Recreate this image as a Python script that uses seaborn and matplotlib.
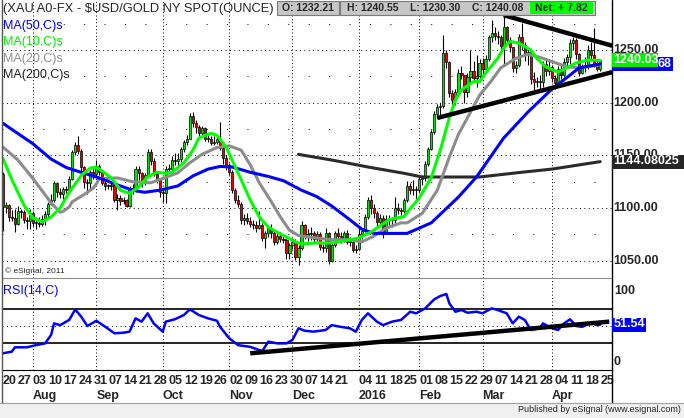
import numpy as np
import pandas as pd
import matplotlib
matplotlib.use("Agg")
import matplotlib.pyplot as plt
from matplotlib.patches import Rectangle
from matplotlib.lines import Line2D
import seaborn as sns

# daily bars, 20 Jul 2015 (bar 0) .. 25 Apr 2016 (bar 198)
first_open = 1132
close = [
    1101, 1103, 1092, 1091, 1085, 1097, 1096, 1089, 1088, 1095,
    1086, 1086, 1085, 1090, 1094, 1104, 1108, 1124, 1115, 1113,
    1118, 1117, 1128, 1153, 1160, 1154, 1139, 1125, 1124, 1134, 1132,
    1140, 1134, 1124, 1121, 1121, 1122, 1108, 1110, 1107, 1108, 1102,
    1119, 1117, 1137, 1133, 1124, 1131, 1153, 1145, 1132, 1127, 1115,
    1114, 1137, 1137, 1146, 1145, 1147, 1156, 1163, 1166, 1187, 1181,
    1177, 1171, 1176, 1166, 1166, 1162, 1163, 1166, 1157, 1148, 1141,
    1134, 1117, 1108, 1104, 1089, 1091, 1088, 1085, 1084, 1081, 1084,
    1072, 1076, 1081, 1076, 1068, 1074, 1071, 1070, 1057, 1065,
    1068, 1054, 1062, 1084, 1074, 1075, 1076, 1071, 1075, 1063, 1062,
    1076, 1050, 1065, 1076, 1074, 1069, 1076, 1068, 1068, 1060, 1061,
    1075, 1078, 1092, 1108, 1100, 1095, 1087, 1091, 1077, 1090,
    1089, 1089, 1100, 1098, 1097, 1108, 1121, 1117, 1118, 1117,
    1128, 1129, 1142, 1156, 1172, 1189, 1196, 1197, 1247, 1239, 1209,
    1203, 1210, 1228, 1226, 1210, 1224, 1230, 1223, 1225, 1238,
    1232, 1241, 1262, 1266, 1263, 1262, 1254, 1272, 1259, 1253, 1233, 1236,
    1262, 1255, 1246, 1248, 1222, 1220, 1221, 1220, 1237, 1230, 1234,
    1223, 1219, 1232, 1226, 1239, 1243, 1257, 1259, 1246, 1228, 1234,
    1236, 1250, 1245, 1237, 1232.21, 1240.08,
]
high = [
    1134, 1106, 1104, 1098, 1099, 1102, 1099, 1098, 1092, 1099,
    1097, 1092, 1092, 1093, 1097, 1106, 1113, 1126, 1125, 1119,
    1120, 1121, 1130, 1155, 1163, 1168, 1156, 1140, 1128, 1136, 1140,
    1146, 1142, 1135, 1126, 1123, 1125, 1126, 1113, 1112, 1111, 1109,
    1121, 1123, 1140, 1140, 1134, 1133, 1156, 1156, 1148, 1135, 1128,
    1119, 1140, 1142, 1149, 1152, 1152, 1158, 1165, 1169, 1190, 1191,
    1184, 1179, 1178, 1177, 1170, 1168, 1168, 1168, 1182, 1160, 1150,
    1143, 1136, 1119, 1112, 1106, 1094, 1095, 1092, 1089, 1088, 1097,
    1086, 1078, 1083, 1085, 1078, 1078, 1077, 1074, 1072, 1067,
    1072, 1071, 1065, 1088, 1085, 1080, 1082, 1078, 1078, 1077, 1066,
    1081, 1077, 1069, 1078, 1081, 1077, 1078, 1079, 1073, 1070, 1065,
    1082, 1081, 1094, 1111, 1112, 1104, 1097, 1094, 1093, 1093,
    1093, 1092, 1111, 1105, 1100, 1110, 1126, 1124, 1127, 1121,
    1130, 1131, 1145, 1158, 1174, 1192, 1199, 1200, 1264, 1250, 1240,
    1212, 1213, 1232, 1235, 1226, 1228, 1250, 1240, 1245, 1241,
    1242, 1245, 1264, 1278, 1272, 1268, 1264, 1283, 1273, 1262, 1253, 1240,
    1265, 1276, 1258, 1252, 1249, 1229, 1224, 1226, 1240, 1242, 1240,
    1236, 1226, 1235, 1236, 1242, 1246, 1260, 1262, 1261, 1247, 1237,
    1243, 1255, 1258, 1271, 1241, 1240.55,
]
low = [
    1078, 1095, 1088, 1088, 1077, 1084, 1091, 1086, 1080, 1080,
    1083, 1080, 1082, 1083, 1084, 1092, 1103, 1106, 1111, 1110,
    1109, 1114, 1114, 1127, 1150, 1151, 1135, 1119, 1113, 1118, 1128,
    1130, 1131, 1122, 1117, 1118, 1117, 1106, 1098, 1103, 1104, 1101,
    1101, 1113, 1115, 1127, 1120, 1122, 1130, 1141, 1130, 1124, 1111,
    1106, 1105, 1133, 1135, 1141, 1138, 1144, 1153, 1160, 1166, 1177,
    1171, 1168, 1168, 1164, 1163, 1160, 1160, 1161, 1155, 1142, 1136,
    1131, 1114, 1105, 1101, 1085, 1084, 1085, 1082, 1080, 1077, 1080,
    1069, 1062, 1073, 1072, 1065, 1066, 1068, 1067, 1052, 1052,
    1061, 1051, 1046, 1060, 1071, 1069, 1070, 1068, 1069, 1060, 1058,
    1058, 1047, 1049, 1063, 1070, 1067, 1068, 1066, 1064, 1058, 1057,
    1061, 1071, 1077, 1090, 1094, 1091, 1083, 1083, 1072, 1075,
    1084, 1082, 1086, 1094, 1093, 1095, 1106, 1113, 1112, 1108,
    1115, 1122, 1126, 1140, 1155, 1170, 1185, 1188, 1195, 1233, 1205,
    1192, 1198, 1206, 1222, 1200, 1205, 1219, 1220, 1215, 1220,
    1225, 1229, 1240, 1258, 1259, 1256, 1250, 1237, 1255, 1248, 1229, 1228,
    1234, 1250, 1240, 1236, 1218, 1208, 1215, 1211, 1215, 1225, 1226,
    1220, 1213, 1216, 1222, 1224, 1234, 1237, 1250, 1241, 1225, 1227,
    1229, 1232, 1240, 1234, 1230, 1230.30,
]

# studies: (bar index, value)
ma10_x = [0, 3, 7, 10, 13, 16, 19, 22, 26, 29, 31, 32, 36, 39, 42, 45, 48, 51, 54, 56,
          60, 63, 65, 69, 71, 74, 76, 79, 82, 85, 88, 91, 94, 97, 99, 104, 109, 115,
          118, 122, 125, 128, 133, 134, 138, 142, 145, 148, 150, 152, 156, 158, 160,
          164, 166, 168, 171, 175, 177, 180, 184, 187, 190, 194, 198]
ma10_y = [1147.5, 1127, 1103, 1090.6, 1087, 1091.6, 1100, 1115, 1131, 1138, 1139, 1137,
          1128.6, 1117, 1114, 1120, 1129.5, 1134, 1133, 1134, 1143, 1155, 1166.5, 1171,
          1169, 1158, 1145.6, 1127, 1107.7, 1091.6, 1082, 1077, 1072.6, 1068, 1066, 1067,
          1067, 1070, 1071.6, 1077.3, 1083, 1089, 1092, 1096, 1109.6, 1129, 1155, 1186,
          1202.6, 1212, 1220, 1220, 1228, 1242, 1252, 1258, 1256.6, 1250, 1242, 1234,
          1229, 1233, 1237.7, 1240.5, 1240.03]
ma20_x = [0, 5, 10, 16, 19, 20, 22, 23, 27, 30, 31, 32, 38, 43, 49, 52, 58, 62, 66, 71,
          75, 79, 82, 85, 89, 92, 95, 98, 101, 104, 109, 115, 119, 123, 127, 132, 134,
          139, 144, 148, 151, 155, 158, 162, 165, 170, 174, 178, 182, 187, 191, 198]
ma20_y = [1158, 1145.6, 1128, 1105, 1096, 1097, 1101, 1106, 1113, 1119, 1123, 1128,
          1128.6, 1125, 1124, 1127, 1133.5, 1143, 1151, 1157.5, 1159, 1155, 1141, 1124,
          1106, 1091.6, 1079, 1074, 1072.6, 1071.6, 1070, 1070, 1068, 1073.5, 1081, 1086,
          1086, 1095, 1117, 1148.5, 1170, 1191, 1207, 1221, 1233, 1242, 1246, 1243,
          1239, 1234, 1233, 1236]
ma50_x = [0, 10, 16, 21, 27, 32, 38, 43, 47, 52, 58, 63, 68, 72, 76, 82, 88, 93, 99,
          104, 109, 115, 119, 123, 134, 142, 151, 157, 166, 174, 182, 187, 191, 198]
ma50_y = [1180.5, 1161, 1146.5, 1138.5, 1133, 1128.6, 1122, 1117, 1115, 1117, 1121,
          1130.5, 1137, 1139.5, 1139, 1134, 1130, 1126, 1117, 1111, 1102, 1089, 1080,
          1076, 1076, 1086, 1110.5, 1129.5, 1166.5, 1191, 1213, 1224, 1233, 1236.68]
ma200_x = [98, 100, 109, 112, 121, 123, 133, 139, 147, 158, 172, 182, 198]
ma200_y = [1151, 1150, 1145.6, 1144, 1139, 1138, 1133, 1129.5, 1129.5, 1129.5, 1134,
           1137, 1144.08]
rsi_x = [0, 3, 4, 8, 11, 14, 16, 17, 19, 22, 24, 26, 28, 31, 34, 37, 40, 42, 44, 46,
         48, 50, 53, 54, 57, 60, 62, 65, 68, 71, 72, 75, 78, 82, 85, 86, 88, 91, 94,
         96, 98, 100, 103, 107, 109, 112, 115, 117, 119, 121, 124, 126, 129, 132, 135,
         137, 140, 143, 145, 147, 148, 150, 152, 154, 157, 159, 162, 164, 167, 169,
         171, 173, 175, 178, 179, 182, 184, 186, 188, 190, 192, 195, 197, 198]
rsi_y = [18.6, 20.5, 25.5, 25.5, 28, 30, 39.7, 53, 51, 57, 69, 60.7, 50, 56, 49, 41.6,
         42.3, 43.5, 58.8, 55, 64.6, 53, 43.5, 55, 57.7, 62.6, 69.2, 62.6, 58.8, 56, 49,
         36, 28, 26, 22.4, 21.3, 32, 30, 30, 34, 47.4, 44.6, 43.5, 45.4, 51, 49, 47.4,
         43.5, 57, 64.6, 55, 51, 55, 57, 66.4, 64.6, 70.3, 80.7, 84.5, 86.8, 76, 66.4,
         68.4, 65.3, 66.4, 64.6, 70.3, 68.4, 64.6, 53, 60.7, 57, 45.4, 47.4, 53, 47.4,
         45.4, 53, 57.7, 50, 49, 53.8, 51, 51.54]

# hand-drawn trend lines
tl_top_x, tl_top_y = [166, 202], [1283, 1254]
tl_bot_x, tl_bot_y = [144, 202], [1185.5, 1229]
tl_rsi_x, tl_rsi_y = [82, 201], [18.6, 55]

week_x = [0, 5, 10, 15, 20, 25, 30, 35, 40, 45, 50, 55, 60, 65, 70, 75, 80, 85, 90, 95,
          100, 105, 110, 118, 123, 128, 133, 138, 143, 148, 153, 158, 163, 168, 173,
          178, 183, 188, 193, 198]
week_lbl = ["20", "27", "03", "10", "17", "24", "31", "07", "14", "21", "28", "05",
            "12", "19", "26", "02", "09", "16", "23", "30", "07", "14", "21", "04",
            "11", "18", "25", "01", "08", "15", "22", "29", "07", "14", "21", "28",
            "04", "11", "18", "25"]
month_x = [10, 31, 53, 75, 96, 118, 138, 159, 182]
month_lbl = ["Aug", "Sep", "Oct", "Nov", "Dec", "2016", "Feb", "Mar", "Apr"]

price_lbls = [1250, 1200, 1150, 1100, 1050]

sns.set_style("white")
plt.rcParams["font.family"] = ["Liberation Sans", "DejaVu Sans"]

W, H = 684, 418
fig = plt.figure(figsize=(W / 100, H / 100), dpi=100)


def fx(px):
    return px / W


def fy(py):
    return 1 - py / H


ax = fig.add_axes([fx(2), fy(278), 610 / W, 278 / H])
rax = fig.add_axes([fx(2), fy(370), 610 / W, 90 / H])

# grid
for a in (ax, rax):
    for m in month_x:
        a.axvline(m, color="black", lw=0.7, ls=(0, (1, 2.5)), zorder=1)
for p in [1050, 1100, 1150, 1200, 1250]:
    ax.axhline(p, color="black", lw=0.7, ls=(0, (1, 3.5)), zorder=1)
for p in [1075, 1125, 1175, 1225, 1275]:
    ax.axhline(p, color="black", lw=0.7, ls=(0, (1, 20)), zorder=1)

# candles
bars = pd.DataFrame({"close": close, "high": high, "low": low})
bars["open"] = [first_open] + close[:-1]
bars["i"] = np.arange(len(bars))
up = bars["close"] >= bars["open"]
body_lo = np.minimum(bars["open"], bars["close"])
body_h = np.maximum((bars["close"] - bars["open"]).abs(), 0.6)
ax.vlines(bars["i"], bars["low"], bars["high"], color="black", lw=0.8, zorder=2)
ax.bar(bars["i"], body_h, bottom=body_lo, width=0.72,
       color=np.where(up, "#00e600", "#ee0000"), edgecolor="black",
       linewidth=0.5, zorder=3)

# moving averages
for xs, ys, col in [(ma200_x, ma200_y, "#2b2b2b"), (ma20_x, ma20_y, "#8c8c8c"),
                    (ma50_x, ma50_y, "#0000ff"), (ma10_x, ma10_y, "#00ff00")]:
    sns.lineplot(x=xs, y=ys, ax=ax, color=col, linewidth=2.2, zorder=4, legend=False)

ax.plot(tl_top_x, tl_top_y, color="black", lw=3.2, solid_capstyle="butt", zorder=6)
ax.plot(tl_bot_x, tl_bot_y, color="black", lw=3.2, solid_capstyle="butt", zorder=6)

# RSI panel
rax.axhline(70, color="black", lw=1.2, zorder=2)
rax.axhline(30, color="black", lw=1.2, zorder=2)
rax.axhline(50, color="black", lw=0.7, ls=(0, (1, 3.5)), zorder=1)
sns.lineplot(x=rsi_x, y=rsi_y, ax=rax, color="#0000ff", linewidth=1.8, zorder=4, legend=False)
rax.plot(tl_rsi_x, tl_rsi_y, color="black", lw=3.2, solid_capstyle="butt", zorder=5)

for a in (ax, rax):
    a.set_xlim(-0.27, 201.9)
    a.set_xticks([])
    a.set_yticks([])
    a.set_xlabel("")
    a.set_ylabel("")
    for s in a.spines.values():
        s.set_visible(False)
ax.set_ylim(1033.7, 1297.4)
rax.set_ylim(-0.6, 102.9)
ax.spines["bottom"].set_visible(True)
ax.spines["bottom"].set_color("#909090")
rax.spines["bottom"].set_visible(True)
rax.spines["bottom"].set_color("black")

# date axis
xt = rax.get_xaxis_transform()
for i, lbl in zip(week_x, week_lbl):
    rax.text(i, -0.122, lbl, transform=xt, ha="left", va="center",
             fontsize=9, fontweight="bold", clip_on=False)
for i, lbl in zip(month_x, month_lbl):
    rax.text(i, -0.289, lbl, transform=xt, ha="left", va="center",
             fontsize=9, fontweight="bold", clip_on=False)

# frame lines, footer
fig.add_artist(Line2D([fx(612)] * 2, [fy(0), fy(403)], color="black", lw=1.0))
fig.add_artist(Line2D([fx(1.5)] * 2, [fy(0), fy(403)], color="#555555", lw=1.0))
fig.add_artist(Rectangle((0, 0), 1, 15 / H, transform=fig.transFigure,
                         facecolor="#f0f0f0", edgecolor="none"))
fig.add_artist(Line2D([0, 1], [fy(403)] * 2, color="#a0a0a0", lw=0.8))
fig.text(fx(681), fy(410), "Published by eSignal (www.esignal.com)",
         ha="right", va="center", fontsize=6.5)

# header
fig.text(fx(3), fy(9), "(XAU A0-FX - $USD/GOLD NY SPOT(OUNCE)", fontsize=9.3,
         va="center", ha="left", parse_math=False, zorder=8)
fig.add_artist(Rectangle((fx(277), fy(15)), 62 / W, 14 / H, transform=fig.transFigure,
                         facecolor="#c6c6c6", edgecolor="#7a7a7a", lw=0.8, zorder=6))
fig.add_artist(Rectangle((fx(340), fy(15)), 255 / W, 14 / H, transform=fig.transFigure,
                         facecolor="#c6c6c6", edgecolor="#7a7a7a", lw=0.8, zorder=6))
fig.add_artist(Rectangle((fx(530), fy(14)), 63 / W, 12 / H, transform=fig.transFigure,
                         facecolor="#00ff00", edgecolor="none", zorder=7))
for px, txt in [(282, "O: 1232.21"), (347, "H: 1240.55"), (410, "L: 1230.30"),
                (472, "C: 1240.08"), (535, "Net: + 7.82")]:
    fig.text(fx(px), fy(8), txt, fontsize=7.5, fontweight="bold", va="center",
             ha="left", zorder=8)

for py, txt, col in [(26, "MA(50,C)s", "#0000ff"), (42, "MA(10,C)s", "#00ee00"),
                     (59, "MA(20,C)s", "#909090"), (75, "MA(200,C)s", "#222222")]:
    fig.text(fx(3), fy(py), txt, color=col, fontsize=9, va="center", ha="left", zorder=8)

fig.text(fx(5), fy(271), "\u00a9 eSignal, 2011", fontsize=6, va="center", ha="left")
fig.text(fx(3), fy(291), "RSI(14,C)", color="#0000ff", fontsize=9, va="center", ha="left")

# right-hand scale
ptrans = ax.get_yaxis_transform()
for p in price_lbls:
    ax.text(1.0016, p, f"{p:.2f}", transform=ptrans, ha="left", va="center",
            fontsize=9, fontweight="bold", clip_on=False)
fig.text(fx(614), fy(291), "100", fontsize=9, fontweight="bold", va="center", ha="left")
fig.text(fx(614), fy(362), "0", fontsize=9, fontweight="bold", va="center", ha="left")


def value_box(axis, value, text, x0, x1, face, tx, ha, z):
    yd = axis.transData.transform((0, value))[1]
    fig.add_artist(Rectangle((fx(x0), (yd - 7) / H), (x1 - x0) / W, 14 / H,
                             transform=fig.transFigure, facecolor=face,
                             edgecolor="none", zorder=z))
    fig.text(fx(tx), (yd + 0.5) / H, text, color="white", ha=ha, va="center",
             fontsize=9, fontweight="bold", zorder=z + 1)


# MA(50) tag sits under the MA(10) tag, only its last digits show
value_box(ax, 1236.68, "68", 612, 673, "#0000ff", 671, "right", 10)
value_box(ax, 1240.03, "1240.03", 612, 658, "#00f000", 613, "left", 12)
value_box(ax, 1144.08025, "1144.08025", 612, 684, "#262626", 613, "left", 10)
value_box(rax, 51.54, "51.54", 612, 646, "#0000ff", 614, "left", 10)

fig.savefig("out.png", dpi=100)
